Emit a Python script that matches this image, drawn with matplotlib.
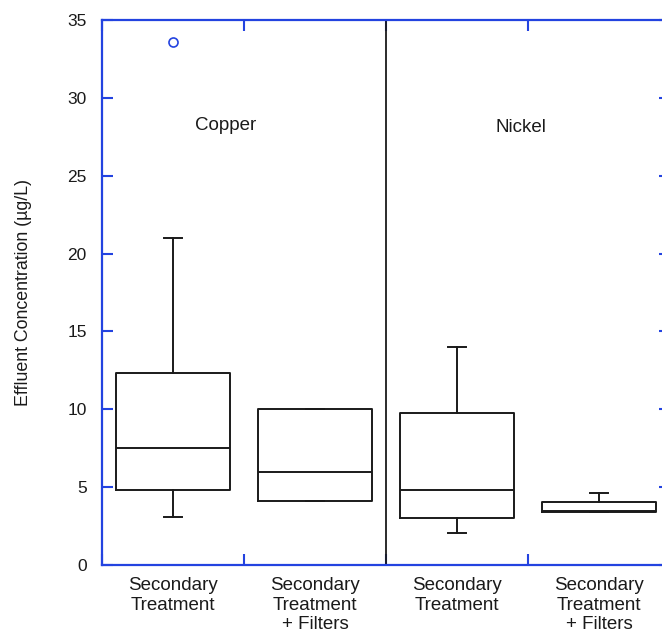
import matplotlib
matplotlib.use('Agg')
import matplotlib.pyplot as plt

plt.rcParams['font.family'] = ['Liberation Sans', 'DejaVu Sans']

# box statistics (ug/L)
labels = ['Secondary\nTreatment', 'Secondary\nTreatment\n+ Filters',
          'Secondary\nTreatment', 'Secondary\nTreatment\n+ Filters']
positions = [0.5, 1.5, 2.5, 3.5]
q1 = [4.8, 4.1, 3.05, 3.4]
med = [7.5, 6.0, 4.8, 3.5]
q3 = [12.3, 10.0, 9.75, 4.03]
whislo = [3.1, 4.1, 2.05, 3.4]
whishi = [21.0, 10.0, 14.0, 4.6]
fliers = [[33.6], [], [], []]

metals = ['Copper', 'Nickel']
metal_x = [0.87, 2.95]
metal_y = [28.2, 28.1]

blue = '#2343e0'
ink = '#1a1a1a'

stats = []
for i in range(len(labels)):
    stats.append(dict(q1=q1[i], med=med[i], q3=q3[i], whislo=whislo[i],
                      whishi=whishi[i], fliers=fliers[i]))

fig = plt.figure(figsize=(6.62, 6.33), dpi=100)
# the right edge of the axes runs just past the picture, as in the source
ax = fig.add_axes([102 / 662, 68 / 633, 568 / 662, 545 / 633])

line = dict(color=ink, linewidth=1.4)
ax.bxp(stats, positions=positions, widths=0.8, capwidths=0.12,
       boxprops=line, medianprops=line, whiskerprops=line, capprops=line,
       flierprops=dict(marker='o', markerfacecolor='none',
                       markeredgecolor=blue, markersize=6.5, markeredgewidth=1.2))

# divider between the two metals
ax.axvline(2, color=ink, linewidth=1.3)

for name, x, y in zip(metals, metal_x, metal_y):
    ax.text(x, y, name, ha='center', va='center', fontsize=13.5, color=ink)

ax.set_xlim(0, 4)
ax.set_ylim(0, 35)
ax.set_yticks(range(0, 36, 5))
ax.set_xticks([0, 1, 2, 3, 4])
ax.set_xticklabels([])
ax.set_xticks(positions, minor=True)
ax.set_xticklabels(labels, minor=True, fontsize=13.5, color=ink,
                   linespacing=1.17)
ax.tick_params(axis='x', which='minor', length=0, pad=9)
ax.tick_params(which='major', direction='in', length=8, width=1.5,
               color=blue, top=True, right=True)
ax.tick_params(axis='y', labelsize=12.5, labelcolor=ink, pad=11)

for s in ax.spines.values():
    s.set_color(blue)
    s.set_linewidth(1.6)

ax.set_ylabel('Effluent Concentration (µg/L)', fontsize=12.8, color=ink,
              labelpad=25)

fig.savefig('out.png', dpi=100)
